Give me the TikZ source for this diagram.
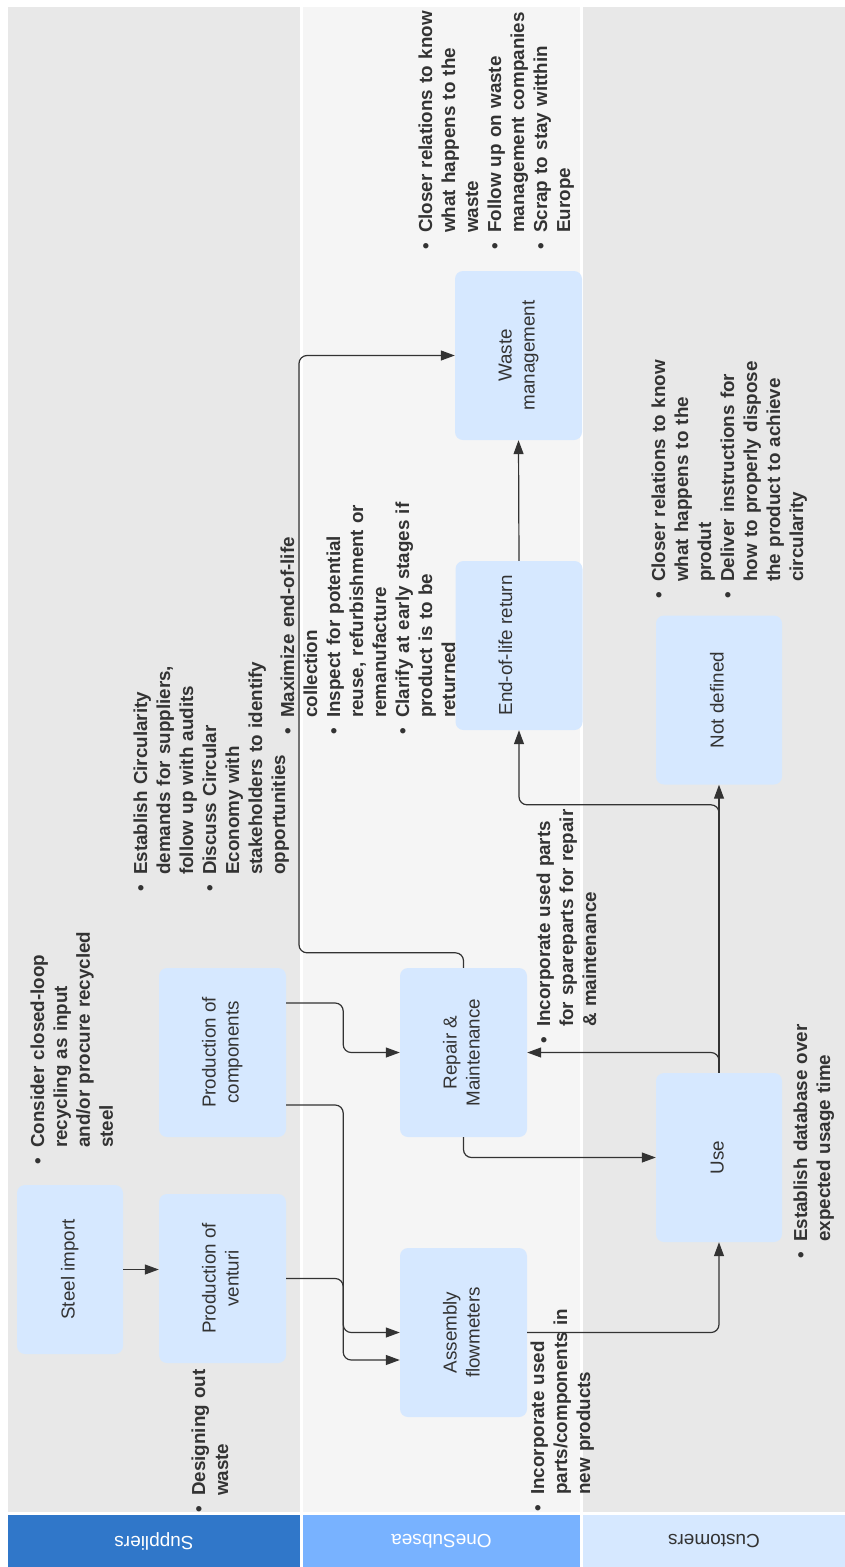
\documentclass[tikz,border=0pt]{standalone}
\usepackage{fontspec}
\setmainfont{Liberation Sans}
\usepackage{graphicx}
\usetikzlibrary{arrows.meta, calc}

\definecolor{laneGray}{HTML}{E8E8E8}
\definecolor{laneLight}{HTML}{F5F5F5}
\definecolor{boxBlue}{HTML}{D6E8FF}
\definecolor{headDark}{HTML}{3077C9}
\definecolor{headMid}{HTML}{78B2FF}
\definecolor{headLight}{HTML}{D6E8FF}
\definecolor{inkGray}{HTML}{333333}

\newcommand{\vlabel}[1]{\rotatebox{90}{\begin{tabular}{@{}c@{}}#1\end{tabular}}}
\newcommand{\bul}{\makebox[20pt][l]{\hspace{3.5pt}\textbullet}}
\newcommand{\ind}{\hspace*{20pt}}

\begin{document}
\begin{tikzpicture}[
    x=1pt, y=-1pt,
    box/.style={rectangle, fill=boxBlue, rounded corners=8pt, inner sep=0pt,
                minimum width=127pt, minimum height=169pt, text=inkGray,
                font=\fontsize{18.8}{23}\selectfont},
    note/.style={rotate=90, anchor=base west, inner sep=0pt, text width=260pt,
                 align=left, text=inkGray, font=\fontsize{18.8}{23}\selectfont\bfseries},
    lanehead/.style={rectangle, inner sep=0pt, minimum height=52pt,
                     font=\fontsize{19}{23}\selectfont},
    arrow/.style={-{Triangle[length=14pt, width=10pt]}, draw=inkGray,
                  line width=1.2pt, rounded corners=8pt},
  ]
    \useasboundingbox (0,0) rectangle (845,1567);
    \fill[white] (0,0) rectangle (845,1567);

    % Lanes
    \fill[laneGray]  (8,7)   rectangle (300,1512);
    \fill[laneLight] (303,7) rectangle (580,1512);
    \fill[laneGray]  (583,7) rectangle (845,1512);
    \node[lanehead, fill=headDark, text=white, minimum width=292pt] (hsup) at (154,1541) {\rotatebox{180}{Suppliers}};
    \node[lanehead, fill=headMid, text=white, minimum width=277pt] (hone) at (441.5,1541) {\rotatebox{180}{OneSubsea}};
    \node[lanehead, fill=headLight, text=inkGray, minimum width=262pt] (hcus) at (714,1541) {\rotatebox{180}{Customers}};

    % Process boxes
    \node[box, minimum width=106pt] (steel) at (70,1269.5) {\vlabel{Steel import}};
    \node[box] (venturi) at (222.5,1278.5) {\vlabel{Production of\\venturi}};
    \node[box] (comp)    at (222.5,1052.5) {\vlabel{Production of\\components}};
    \node[box] (asm)     at (463.5,1332.5) {\vlabel{Assembly\\flowmeters}};
    \node[box] (repair)  at (463.5,1052.5) {\vlabel{Repair \&\\Maintenance}};
    \node[box, minimum width=126pt] (use)    at (719,1157.5) {\vlabel{Use}};
    \node[box] (eol)     at (519,645.5)    {\vlabel{End-of-life return\\\mbox{}}};
    \node[box, minimum width=126pt] (notdef) at (719,700) {\vlabel{Not defined}};
    \node[box] (waste)   at (518.5,355.5)  {\vlabel{Waste\\management}};

    % Notes
    \node[note] (nsteel) at (44,1168) {\bul Consider closed-loop\newline\ind recycling as input\newline\ind and/or procure recycled\newline\ind steel};
    \node[note] (nventuri) at (205,1516) {\bul Designing out\newline\ind waste};
    \node[note] (ncomp) at (147,895) {\bul Establish Circularity\newline\ind demands for suppliers,\newline\ind follow up with audits\newline\bul Discuss Circular\newline\ind Economy with\newline\ind stakeholders to identify\newline\ind opportunities};
    \node[note] (neol) at (294,738) {\bul Maximize end-of-life\newline\ind collection\newline\bul Inspect for potential\newline\ind reuse, refurbishment or\newline\ind remanufacture\newline\bul Clarify at early stages if\newline\ind product is to be\newline\ind returned};
    \node[note] (nrepair) at (550,1047) {\bul Incorporate used parts\newline\ind for spareparts for repair\newline\ind \& maintenance};
    \node[note] (nasm) at (544,1515) {\bul Incorporate used\newline\ind parts/components in\newline\ind new products};
    \node[note] (nuse) at (807,1262) {\bul Establish database over\newline\ind expected usage time};
    \node[note] (nnotdef) at (665,602) {\bul Closer relations to know\newline\ind what happens to the\newline\ind produt\newline\bul Deliver instructions for\newline\ind how to properly dispose\newline\ind the product to achieve\newline\ind circularity};
    \node[note] (nwaste) at (432,253) {\bul Closer relations to know\newline\ind what happens to the\newline\ind waste\newline\bul Follow up on waste\newline\ind management companies\newline\bul Scrap to stay witthin\newline\ind Europe};

    % Connectors
    \draw[arrow] (steel.east) -- (steel.east -| venturi.west);
    \draw[arrow] (venturi.east) -- ++(57,0) |- (asm.west);
    \draw[arrow] ($(comp.east)+(0,-49.5)$) -- ++(57,0) |- (repair.west);
    \draw[arrow] ($(comp.east)+(0,52.5)$) -- ++(57,0) |- ($(asm.west)+(0,27.5)$);
    \draw[arrow] (asm.east) -| (use.south);
    \draw[arrow] (repair.south) |- (use.west);
    \draw[arrow] (use.north) |- (repair.east);
    \draw[arrow] (use.north) -- (notdef.south);
    \draw[arrow] (use.north) -- ++(0,-268) -| (eol.south);
    \draw[arrow] (eol.north) -- (waste.south);
    \draw[arrow] (repair.north) -- ++(0,-15) -- ++(-164.5,0) |- (waste.west);
\end{tikzpicture}
\end{document}
